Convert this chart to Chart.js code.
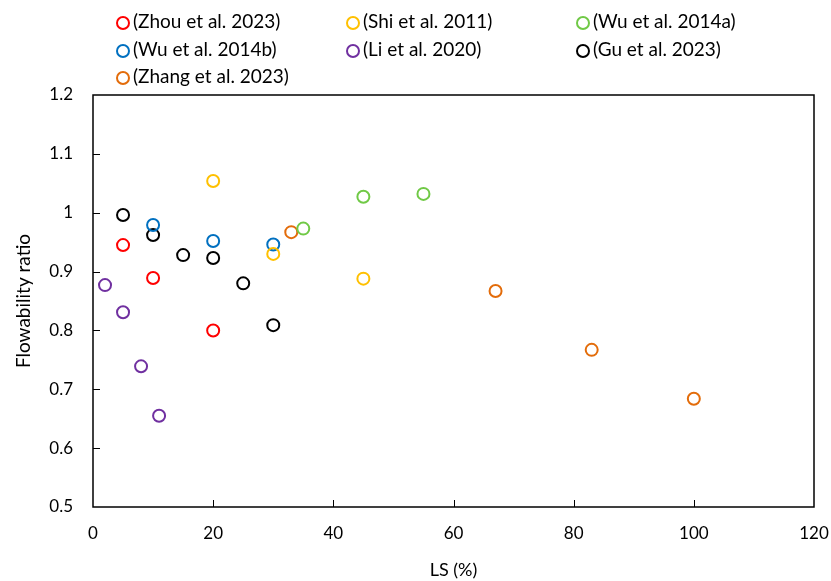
<!DOCTYPE html>
<html>
<head>
<meta charset="utf-8">
<script src="https://cdn.jsdelivr.net/npm/chart.js@4.4.0/dist/chart.umd.min.js"></script>
<style>
  html, body { margin: 0; padding: 0; background: #fff; }
  #wrap { position: relative; width: 831px; height: 581px; }
  #legend { position: absolute; left: 116px; top: 12px; font-family: Lato, sans-serif; font-size: 19px; color: #000; }
  .item { position: absolute; white-space: nowrap; }
  .dot { position: absolute; left: 0; top: 4px; width: 10px; height: 10px; border-radius: 50%; border: 2px solid; box-sizing: content-box; }
  .lbl { position: absolute; left: 17px; top: -1px; line-height: 20px; }
</style>
</head>
<body>
<div id="wrap">
  <canvas id="myChart" width="831" height="581"></canvas>
  <div id="legend"></div>
</div>
<script>
var nombres = ['(Zhou et al. 2023)', '(Shi et al. 2011)', '(Wu et al. 2014a)', '(Wu et al. 2014b)', '(Li et al. 2020)', '(Gu et al. 2023)', '(Zhang et al. 2023)'];
var colores = ['#ff0000', '#ffc000', '#70c946', '#0070c0', '#7030a0', '#000000', '#e36c0a'];

var zhouX = [5, 10, 20];
var zhouY = [0.945, 0.889, 0.800];
var shiX = [20, 30, 45];
var shiY = [1.054, 0.930, 0.888];
var wuaX = [35, 45, 55];
var wuaY = [0.973, 1.027, 1.032];
var wubX = [10, 20, 30];
var wubY = [0.979, 0.952, 0.946];
var liX = [2, 5, 8, 11];
var liY = [0.877, 0.831, 0.739, 0.655];
var guX = [5, 10, 15, 20, 25, 30];
var guY = [0.996, 0.962, 0.928, 0.923, 0.880, 0.809];
var zhangX = [33, 67, 83, 100];
var zhangY = [0.967, 0.867, 0.767, 0.684];

var xTicks = [0, 20, 40, 60, 80, 100, 120];
var yTicks = [0.5, 0.6, 0.7, 0.8, 0.9, 1, 1.1, 1.2];

var series = [[zhouX, zhouY], [shiX, shiY], [wuaX, wuaY], [wubX, wubY], [liX, liY], [guX, guY], [zhangX, zhangY]];

function puntos(xs, ys) {
    var r = [];
    for (var i = 0; i < xs.length; i++) {
        r.push({ x: xs[i], y: ys[i] });
    }
    return r;
}

var datasets = [];
for (var i = 0; i < series.length; i++) {
    datasets.push({
        label: nombres[i],
        data: puntos(series[i][0], series[i][1]),
        borderColor: colores[i],
        backgroundColor: 'rgba(0,0,0,0)',
        pointRadius: 6,
        pointHoverRadius: 6,
        pointBorderWidth: 2
    });
}

// leyenda en html, 3 columnas
var legend = document.getElementById('legend');
for (var i = 0; i < nombres.length; i++) {
    var col = i % 3, fila = Math.floor(i / 3);
    var d = document.createElement('div');
    d.className = 'item';
    d.style.left = (col * 230) + 'px';
    d.style.top = (fila * 27.5) + 'px';
    d.innerHTML = '<span class="dot" style="border-color:' + colores[i] + '"></span><span class="lbl">' + nombres[i] + '</span>';
    legend.appendChild(d);
}

// marco y marcas hacia dentro
var marco = {
    id: 'marco',
    afterDatasetsDraw: function(chart) {
        var ctx = chart.ctx, a = chart.chartArea;
        var xs = chart.scales.x, ys = chart.scales.y;
        ctx.save();
        ctx.strokeStyle = '#000';
        ctx.lineWidth = 1.5;
        ctx.strokeRect(a.left, a.top, a.right - a.left, a.bottom - a.top);
        ctx.lineWidth = 1;
        ctx.beginPath();
        for (var i = 1; i < xTicks.length - 1; i++) {
            var px = Math.round(xs.getPixelForValue(xTicks[i])) + 0.5;
            ctx.moveTo(px, a.bottom);
            ctx.lineTo(px, a.bottom - 7);
        }
        for (var j = 1; j < yTicks.length - 1; j++) {
            var py = Math.round(ys.getPixelForValue(yTicks[j])) + 0.5;
            ctx.moveTo(a.left, py);
            ctx.lineTo(a.left + 7, py);
        }
        ctx.stroke();
        ctx.restore();
    }
};

var ctx = document.getElementById('myChart');
var myChart = new Chart(ctx, {
    type: 'scatter',
    data: { datasets: datasets },
    options: {
        responsive: false,
        animation: false,
        layout: { padding: { top: 95, right: 17, left: 8, bottom: 0 } },
        plugins: {
            legend: { display: false },
            tooltip: { enabled: false }
        },
        scales: {
            x: {
                min: 0, max: 120,
                afterBuildTicks: function(s) { s.ticks = xTicks.map(function(v) { return { value: v }; }); },
                afterFit: function(s) { s.height = 74; s.paddingRight = 0; s.paddingLeft = 0; },
                grid: { display: false },
                border: { display: false },
                ticks: { color: '#000', padding: 8, font: { family: 'Lato', size: 17 } },
                title: { display: true, text: 'LS (%)', color: '#000', padding: { top: 10, bottom: 0 }, font: { family: 'Lato', size: 18 } }
            },
            y: {
                min: 0.5, max: 1.2,
                afterBuildTicks: function(s) { s.ticks = yTicks.map(function(v) { return { value: v }; }); },
                afterFit: function(s) { s.width = 85; s.paddingTop = 0; s.paddingBottom = 0; },
                grid: { display: false },
                border: { display: false },
                ticks: {
                    color: '#000', padding: 12, font: { family: 'Lato', size: 17 },
                    callback: function(v) { return String(Number(v.toFixed(1))); }
                },
                title: { display: true, text: 'Flowability ratio', color: '#000', padding: { top: 4, bottom: 4 }, font: { family: 'Lato', size: 19 } }
            }
        }
    },
    plugins: [marco]
});
</script>
</body>
</html>
